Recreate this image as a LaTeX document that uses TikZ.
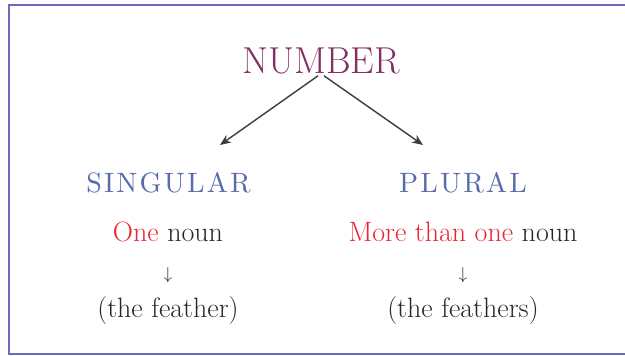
\documentclass[tikz,border=0pt]{standalone}
\usepackage{fontspec}
\usetikzlibrary{arrows.meta}
\newfontfamily\spacedfont{lmroman10-regular}[Extension=.otf, LetterSpace=8]
\definecolor{numcol}{RGB}{130,48,98}
\definecolor{catcol}{RGB}{88,108,172}
\definecolor{redcol}{RGB}{232,38,48}
\definecolor{txtcol}{RGB}{38,38,38}
\definecolor{framecol}{RGB}{108,108,188}
\begin{document}
\begin{tikzpicture}[x=1pt,y=1pt,
  lbl/.style={inner sep=0pt, anchor=base, text=txtcol},
  head/.style={lbl, text=numcol, font=\fontsize{37.5}{42}\selectfont},
  cat/.style={lbl, text=catcol, font=\spacedfont\fontsize{28}{32}\selectfont},
  body/.style={lbl, font=\fontsize{28}{32}\selectfont},
  darr/.style={inner sep=0pt, text=txtcol, font=\fontsize{19}{22}\selectfont},
  conn/.style={draw=txtcol!90, line width=1.4pt, -{Stealth[length=11pt,width=9pt]}}]
\useasboundingbox (0,0) rectangle (625,356);
\draw[framecol, line width=2pt] (640,351) -- (9,351) -- (9,2) -- (640,2);
\node[head] (num) at (321,282) {NUMBER};
\node[cat] (sing) at (168.5,163) {SINGULAR};
\node[cat] (plur) at (463,163) {PLURAL};
\node[body] (one) at (168,114) {\textcolor{redcol}{One} noun};
\node[body] (more) at (463,114) {\textcolor{redcol}{More than one} noun};
\node[darr] (da1) at (168,81) {$\downarrow$};
\node[darr] (da2) at (463,81) {$\downarrow$};
\node[body] (fe1) at (168,38) {(the feather)};
\node[body] (fe2) at (463,38) {(the feathers)};
\coordinate (ltip) at (220,211);
\coordinate (rtip) at (423,211);
\draw[conn] ([xshift=-3pt,yshift=-1pt]num.south) -- (ltip);
\draw[conn] ([xshift=3pt,yshift=-1pt]num.south) -- (rtip);
\end{tikzpicture}
\end{document}
